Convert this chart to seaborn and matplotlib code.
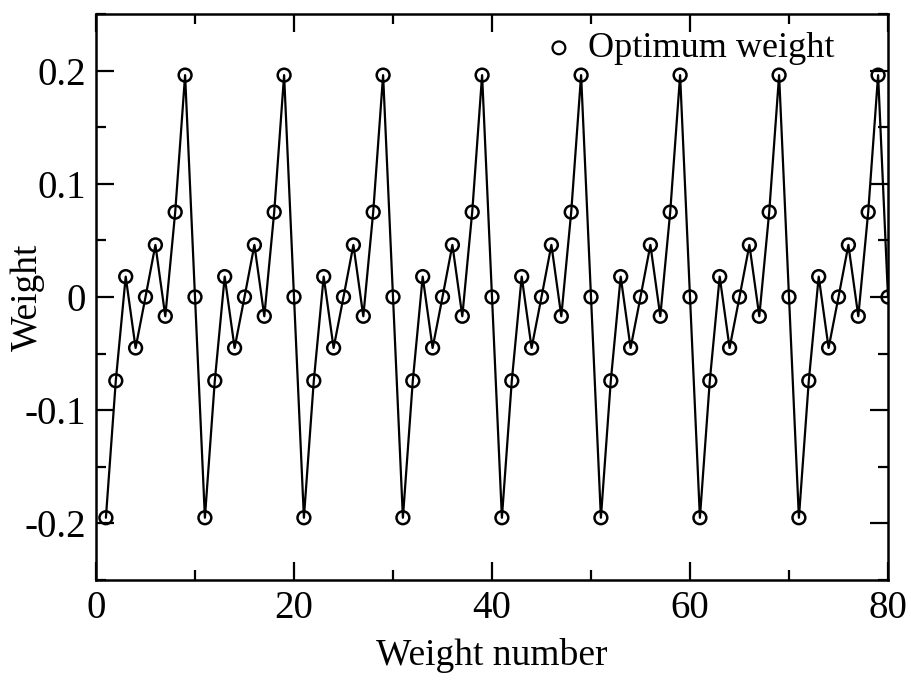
import matplotlib
matplotlib.use("Agg")
import matplotlib.pyplot as plt
from matplotlib.ticker import MultipleLocator, FixedLocator
import numpy as np
import pandas as pd
import seaborn as sns

# Optimum filter weights, one value per weight index
weight_number = list(range(1, 81))
weight = [
    -0.195, -0.074, 0.018, -0.045, 0.000, 0.046, -0.017, 0.075, 0.196, 0.000,
    -0.195, -0.074, 0.018, -0.045, 0.000, 0.046, -0.017, 0.075, 0.196, 0.000,
    -0.195, -0.074, 0.018, -0.045, 0.000, 0.046, -0.017, 0.075, 0.196, 0.000,
    -0.195, -0.074, 0.018, -0.045, 0.000, 0.046, -0.017, 0.075, 0.196, 0.000,
    -0.195, -0.074, 0.018, -0.045, 0.000, 0.046, -0.017, 0.075, 0.196, 0.000,
    -0.195, -0.074, 0.018, -0.045, 0.000, 0.046, -0.017, 0.075, 0.196, 0.000,
    -0.195, -0.074, 0.018, -0.045, 0.000, 0.046, -0.017, 0.075, 0.196, 0.000,
    -0.195, -0.074, 0.018, -0.045, 0.000, 0.046, -0.017, 0.075, 0.196, 0.000,
]
x_ticks = [0, 20, 40, 60, 80]
y_ticks = [-0.2, -0.1, 0.0, 0.1, 0.2]
y_tick_labels = ["-0.2", "-0.1", "0", "0.1", "0.2"]

df = pd.DataFrame({"n": weight_number, "w": weight})

sns.set_theme(style="ticks")
plt.rcParams["font.family"] = ["Liberation Serif", "DejaVu Serif"]
plt.rcParams["axes.unicode_minus"] = False
plt.rcParams["text.color"] = "black"
plt.rcParams["axes.labelcolor"] = "black"

fig = plt.figure(figsize=(9.12, 6.82), dpi=100)
ax = fig.add_axes([96 / 912, 1 - 580 / 682, (888 - 96) / 912, (580 - 14) / 682])

sns.lineplot(data=df, x="n", y="w", ax=ax, color="black", linewidth=1.6,
             zorder=2, legend=False)
sns.scatterplot(data=df, x="n", y="w", ax=ax, marker="o", s=85,
                facecolors="none", edgecolor="black", linewidth=1.8,
                zorder=3, label="Optimum weight")

ax.set_xlim(0, 80)
ax.set_ylim(-0.25, 0.25)
ax.xaxis.set_major_locator(FixedLocator(x_ticks))
ax.xaxis.set_minor_locator(MultipleLocator(10))
ax.yaxis.set_major_locator(FixedLocator(y_ticks))
ax.set_yticklabels(y_tick_labels)
ax.yaxis.set_minor_locator(MultipleLocator(0.05))

ax.tick_params(which="both", direction="in", top=True, right=True,
               width=1.6, colors="black", labelsize=28, pad=7)
ax.tick_params(which="major", length=13)
ax.tick_params(which="minor", length=7)
for sp in ax.spines.values():
    sp.set_linewidth(1.8)
    sp.set_color("black")

ax.set_xlabel("Weight number", fontsize=27, color="black")
ax.set_ylabel("Weight", fontsize=27, color="black")
ax.xaxis.set_label_coords(0.5, -0.102)
ax.yaxis.set_label_coords(-0.064, 0.5)

leg = ax.legend(loc="upper right", frameon=False, fontsize=26,
                handlelength=1.0, handletextpad=0.3, borderaxespad=0.1,
                bbox_to_anchor=(0.955, 1.0))
for h in leg.legend_handles:
    h.set_sizes([85])
    h.set_linewidth(1.6)
for t in leg.get_texts():
    t.set_color("black")

fig.savefig("out.png", dpi=100)
